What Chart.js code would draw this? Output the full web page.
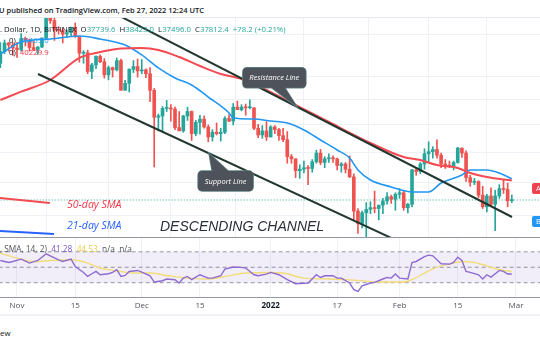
<!DOCTYPE html>
<html>
<head>
<meta charset="utf-8">
<script src="https://cdn.jsdelivr.net/npm/chart.js@4.4.1/dist/chart.umd.min.js"></script>
<style>
  body { margin: 0; width: 540px; height: 340px; overflow: hidden; background: #fff; position: relative;
         font-family: "Open Sans", Arial, sans-serif; color: #131722; }
  canvas { position: absolute; left: 0; }
  #main { top: 18px; }
  #rsi { top: 238px; }
  .t { position: absolute; white-space: nowrap; line-height: 10px; font-size: 7.8px; }
  .hl { position: absolute; left: 0; width: 540px; }
  .up { color: #26a69a; }
  .box { position: absolute; left: 532px; width: 20px; color: #fff; font-size: 7.5px; line-height: 11px;
         padding-left: 4px; border-radius: 2px; }
</style>
</head>
<body>
<div class="hl" style="top:17px;height:1px;background:#e6e9f0"></div>
<canvas id="main" width="540" height="220"></canvas>
<canvas id="rsi" width="540" height="77"></canvas>
<div class="hl" style="top:237px;height:1px;background:#9598a1"></div>
<div class="hl" style="top:314px;height:2px;background:#f0f2f6"></div>

<div class="t" style="top:5px;left:-1px;font-size:7.5px;font-weight:600">U published on TradingView.com, Feb 27, 2022 12:24 UTC</div>
<div class="t" style="top:24px;left:0">. Dollar, 1D, BITFINEX&nbsp;&nbsp;O<span class="up">37739.6</span>&nbsp;&nbsp;H<span class="up">38423.0</span>&nbsp;&nbsp;L<span class="up">37496.0</span>&nbsp;&nbsp;C<span class="up">37812.4</span>&nbsp;&nbsp;<span class="up">+78.2 (+0.21%)</span></div>
<div class="t" style="top:35px;left:9px">0)&nbsp;&nbsp;<span style="color:#2196f3">40465.0</span></div>
<div class="t" style="top:47px;left:9px">0)&nbsp;&nbsp;<span style="color:#f23645">40229.9</span></div>
<div class="t" style="top:198px;left:67px;font-size:10.5px;line-height:12px;font-style:italic;color:#f23645">50-day SMA</div>
<div class="t" style="top:219px;left:67px;font-size:10.5px;line-height:12px;font-style:italic;color:#2962ff">21-day SMA</div>
<div class="t" style="top:217px;left:160px;font-size:14px;line-height:18px;font-style:italic;color:#2a2e39;font-family:'Liberation Sans',Arial,sans-serif">DESCENDING CHANNEL</div>
<div class="t" style="top:244px;left:0;font-size:8.3px;color:#50535e">, SMA, 14, 2)&nbsp;&nbsp;<span style="color:#7e57c2">41.28</span>&nbsp;&nbsp;<span style="color:#e8cf4c">44.53</span>&nbsp;&nbsp;n/a&nbsp;&nbsp;n/a</div>
<div class="box" style="top:183px;background:#f0434f">A</div>
<div class="box" style="top:216px;background:#2196f3">B</div>
<div class="t" style="top:328px;left:0">ew</div>

<script>
// day 0 = Nov 1 2021; first candle is Oct 28 2021
const firstDay = -4;
const opens = [58400,60600,62300,61900, 61300,61000,63200,62900,61400,61000,61500,63300,67500,66900,64900,64800,64100,64400,65500,63600,60300,60400,56900,58100,59700,58700,56300,57600,57200,58900,53600,54800,57300,57800,
  57000,57200,56500,53600,49200,49400,50600,50600,50500,47600,47100,49400,50100,46700,48400,48900,47700,46200,46900,46700,46900,49000,48600,50800,50400,50800,50700,50700,47500,46500,47100,
  46200,47700,47300,46400,45800,43400,43100,41500,41700,41900,41800,42700,43900,42600,43100,43200,43100,42200,42400,41700,40700,36500,35100,36300,36700,36900,36800,37200,37700,38200,37900,
  38500,38700,36900,37300,41600,41400,42400,43800,44100,44400,43600,42400,42200,42100,42600,44600,43900,40600,40000,40100,38400,37000,38300,37300,38300,39200,39100,37739.6];
const highs = [62400,62900,62400,62400, 62400,64200,63500,63100,62600,61600,63300,67800,68500,69000,65600,65400,64900,65500,66400,63600,60800,60900,58400,59800,60000,59300,57900,57700,59400,59200,55300,57400,58900,59200,
  59100,57400,57600,53900,49700,50900,51900,51200,50800,50100,49500,50800,50200,48700,49500,49400,48000,47300,48300,47500,49300,49600,51400,51800,51200,51300,52000,50700,48100,47900,48500,
  47900,47900,47500,47500,47000,43700,43100,42300,42800,42200,43000,44300,44400,43400,43800,43500,43200,42600,42600,43500,41100,36800,36500,37500,37600,38900,37200,38000,38700,38400,38700,
  39200,38900,37400,41700,41900,42600,44500,45500,44800,45800,43900,43000,42800,42800,44700,44600,44200,40900,40500,40200,39500,38500,39300,39000,39700,40300,39900,38423];
const lows = [57600,60200,60700,59900, 59500,60700,61700,60700,60800,60100,61400,63100,66300,62800,64100,62300,63400,63600,63400,58600,58400,56500,55600,57400,58500,55700,55400,55900,57000,53600,53600,53300,56700,55900,
  56500,55800,51700,42000,47100,47000,50100,48600,47300,47300,46900,48700,45700,46400,46600,47500,45500,45600,46500,45600,46700,48500,48000,50400,50200,49500,50500,47300,46100,46000,45700,
  46200,46700,45700,45500,42500,42500,40600,40500,41200,39700,41300,42500,42300,41900,42600,42600,41600,41300,41200,40600,35500,34000,34600,32950,36200,36300,35500,36200,37300,37400,36600,
  38000,36600,36300,37000,40900,41100,41700,42700,43200,43200,41900,41800,41900,41600,42500,43300,40100,39500,39700,38100,36800,36400,37100,34300,38000,38600,37000,37496];
const closes = [60600,62300,61900,61300, 61000,63200,62900,61400,61000,61500,63300,67500,66900,64900,64800,64100,64400,65500,63600,60300,60400,56900,58100,59700,58700,56300,57600,57200,58900,53600,54800,57300,57800,57000,
  57200,56500,53600,49200,49400,50600,50600,50500,47600,47100,49400,50100,46700,48400,48900,47700,46200,46900,46700,46900,49000,48600,50800,50400,50800,50700,50700,47500,46500,47100,46200,
  47700,47300,46400,45800,43400,43100,41500,41700,41900,41800,42700,43900,42600,43100,43200,43100,42200,42400,41700,40700,36500,35100,36300,36700,36900,36800,37200,37700,38200,37900,38500,
  38700,36900,37300,41600,41400,42400,43800,44100,44400,43600,42400,42200,42100,42600,44600,43900,40600,40000,40100,38400,37000,38300,37300,38300,39200,39100,37700,37812.4];

const tickDays = [0, 14, 30, 44, 61, 77, 92, 106, 120];
const tickLabels = ["Nov", "15", "Dec", "15", "2022", "17", "Feb", "15", "Mar"];
const gridPrices = [36000, 40000, 44000, 48000, 52000, 56000, 64000];

const sma50Days = [-4, 1, 8, 15, 20, 25, 30, 34, 39, 44, 49, 54, 61, 68, 75, 85, 93, 97, 101, 106, 109, 113, 119];
const sma50 = [51970, 53360, 55380, 59400, 60540, 61220, 61320, 60930, 59580, 57900, 56450, 55560, 53300, 50820, 48460, 45330, 43350, 42940, 42260, 41860, 41200, 40680, 40229.9];
const sma21Days = [-4, 1, 8, 15, 20, 26, 30, 34, 38, 42, 46, 51, 52, 57, 61, 65, 69, 73, 77, 80, 82, 85, 90, 95, 99, 102, 107, 109, 113, 116, 119];
const sma21 = [60150, 62490, 63090, 63690, 63090, 61900, 59970, 57540, 55740, 54510, 52460, 49870, 49080, 48920, 48610, 48300, 47240, 45760, 44330, 43220, 41600, 40300, 39410, 38790, 38790, 39910, 40940, 41600, 41600, 41200, 40465];

const rsiDays = [-4,-2,-1,1,3,5,7,8,10,11,13,14,16,17,18,19,20,22,23,24,25,26,27,29,30,32,33,35,36,38,39,40,41,42,43,44,46,47,49,50,52,54,55,57,58,60,61,63,65,67,70,72,73,74,76,77,78,80,81,82,83,85,86,88,89,90,91,92,94,95,96,98,99,100,102,104,105,106,107,108,109,111,112,113,114,116,117,118,119];
const rsiVals = [58.8,56.2,57.5,60.5,55.4,58.8,67.4,64.8,59.7,57.5,60.5,51.0,43.3,38.1,41.6,44.6,40.3,41.6,43.3,46.8,38.1,39.4,44.6,45.9,43.8,39.0,30.9,32.6,34.8,33.9,29.6,36.0,38.1,33.9,37.3,40.3,36.0,36.0,39.0,47.7,50.3,49.8,49.0,40.3,39.0,41.2,43.3,40.3,33.9,28.7,29.6,40.3,36.8,39.0,39.0,36.0,36.0,29.6,21.0,18.8,26.1,29.6,30.4,34.8,36.8,36.0,41.2,36.0,34.8,56.2,57.5,63.9,65.7,64.8,54.5,54.1,56.2,63.1,58.8,44.6,43.3,40.3,34.8,40.3,37.3,45.9,44.6,41.2,41.28];
const rsiMaDays = [-4, 0, 4, 8, 13, 17, 20, 24, 28, 32, 36, 41, 46, 50, 55, 61, 64, 69, 75, 82, 87, 93, 95, 98, 101, 104, 107, 110, 113, 116, 119];
const rsiMaVals = [68.3, 61.9, 57.5, 58.8, 59.7, 55.4, 49.0, 45.5, 42.5, 42.5, 39.4, 36.0, 34.8, 38.1, 42.5, 43.3, 42.5, 36.0, 34.8, 33.0, 30.9, 30.9, 33.9, 42.5, 50.3, 54.1, 57.5, 56.2, 51.9, 46.8, 44.53];
const rsiLevels = [70, 50, 30];

// hand drawn lines, endpoints as [day, price]
const resistDays = [24.8, 119.05], resistPrices = [67836, 35822];
const supportDays = [5.05, 92.1], supportPrices = [56446, 33084];
const keyRedDays = [-4.1, 7.9], keyRedPrices = [38053, 37453];
const keyBlueDays = [-4.1, 8.9], keyBluePrices = [34262, 33937];
const lastPrice = 37812.4;

const UP = "#26a69a", DN = "#ef5350", GRID = "#eef1f6";
const X_MIN = -4.088, X_MAX = 125.78;

const pts = (xs, ys) => xs.map((x, i) => ({ x, y: ys[i] }));
const days = opens.map((_, i) => firstDay + i);
const candleColor = opens.map((o, i) => closes[i] >= o ? UP : DN);

function lineDs(data, color, width, extra) {
  return Object.assign({ type: "line", data, borderColor: color, borderWidth: width,
    pointRadius: 0, fill: false }, extra || {});
}

const callouts = [
  { text: "Resistance Line", day: 67.3, price: 50850, dx: -54, dy: -39, w: 63, h: 20, b0: -25, b1: -12 },
  { text: "Support Line", day: 46.2, price: 43838, dx: -11, dy: 17.5, w: 55, h: 20, b0: 3, b1: 19 },
];

const calloutPlugin = {
  id: "callouts",
  afterDatasetsDraw(chart) {
    const { ctx, scales: { x, y } } = chart;
    callouts.forEach(c => {
      const tx = x.getPixelForValue(c.day), ty = y.getPixelForValue(c.price);
      const bx = tx + c.dx, by = ty + c.dy;
      const edge = c.dy < 0 ? by + c.h : by;
      ctx.save();
      ctx.beginPath();
      ctx.roundRect(bx, by, c.w, c.h, 4);
      ctx.moveTo(tx + c.b0, edge);
      ctx.lineTo(tx, ty);
      ctx.lineTo(tx + c.b1, edge);
      ctx.closePath();
      ctx.strokeStyle = "#5f8683";
      ctx.lineWidth = 1.5;
      ctx.stroke();
      ctx.fillStyle = "#4e535b";
      ctx.fill();
      ctx.fillStyle = "#fff";
      ctx.font = "italic 7.5px 'Open Sans', Arial, sans-serif";
      ctx.textAlign = "center";
      ctx.textBaseline = "middle";
      ctx.fillText(c.text, bx + c.w / 2, by + c.h / 2 + 0.5);
      ctx.restore();
    });
  }
};

new Chart(document.getElementById("main"), {
  type: "bar",
  data: {
    datasets: [
      lineDs(pts(resistDays, resistPrices), "#22372f", 2, { order: 0 }),
      lineDs(pts(supportDays, supportPrices), "#22372f", 2, { order: 0 }),
      lineDs(pts(keyRedDays, keyRedPrices), "#f44a52", 2, { order: 0 }),
      lineDs(pts(keyBlueDays, keyBluePrices), "#2962ff", 2, { order: 0 }),
      lineDs(pts(sma50Days, sma50), "#f44a52", 2, { order: 1, cubicInterpolationMode: "monotone" }),
      lineDs(pts(sma21Days, sma21), "#2196f3", 1.6, { order: 1, cubicInterpolationMode: "monotone" }),
      {
        type: "bar", order: 2, grouped: false, barThickness: 3, minBarLength: 1,
        data: days.map((d, i) => ({ x: d, y: [opens[i], closes[i]] })),
        backgroundColor: candleColor, borderWidth: 0
      },
      {
        type: "bar", order: 3, grouped: false, barThickness: 1,
        data: days.map((d, i) => ({ x: d, y: [lows[i], highs[i]] })),
        backgroundColor: candleColor, borderWidth: 0
      },
      lineDs(pts([X_MIN - 2, X_MAX + 2], [lastPrice, lastPrice]), UP, 1, { order: 4, borderDash: [1, 2] }),
    ]
  },
  options: {
    responsive: false, animation: false,
    layout: { padding: 0 },
    plugins: { legend: { display: false }, tooltip: { enabled: false } },
    scales: {
      x: {
        type: "linear", min: X_MIN, max: X_MAX, offset: false,
        grid: { color: GRID, drawTicks: false }, border: { display: false },
        ticks: { display: false },
        afterBuildTicks: s => { s.ticks = tickDays.map(v => ({ value: v })); }
      },
      y: {
        type: "logarithmic", min: 33508, max: 67449,
        grid: { color: GRID, drawTicks: false }, border: { display: false },
        ticks: { display: false },
        afterBuildTicks: s => { s.ticks = gridPrices.map(v => ({ value: v })); }
      }
    }
  },
  plugins: [calloutPlugin]
});

const bandSets = rsiLevels.map((lv, i) => lineDs(pts([X_MIN - 2, X_MAX + 2], [lv, lv]), "#9598a1", 1, {
  order: 2, borderDash: [4, 3],
  fill: i === 0 ? { target: 2 } : false,
  backgroundColor: "rgba(126,87,194,0.10)"
}));

new Chart(document.getElementById("rsi"), {
  type: "line",
  data: {
    datasets: [
      ...bandSets,
      lineDs(pts(rsiMaDays, rsiMaVals), "#f2dc7a", 1.4, { order: 1, cubicInterpolationMode: "monotone" }),
      lineDs(pts(rsiDays, rsiVals), "#8e6bd0", 1.4, { order: 0 }),
    ]
  },
  options: {
    responsive: false, animation: false,
    layout: { padding: 0 },
    plugins: { legend: { display: false }, tooltip: { enabled: false } },
    scales: {
      x: {
        type: "linear", min: X_MIN, max: X_MAX, offset: false,
        grid: { color: GRID, drawTicks: false },
        border: { display: true, color: "#9598a1" },
        afterBuildTicks: s => { s.ticks = tickDays.map(v => ({ value: v })); },
        afterFit: s => { s.height = 18; },
        ticks: {
          padding: 4, maxRotation: 0, autoSkip: false,
          callback: v => tickLabels[tickDays.indexOf(v)],
          color: c => c.tick && c.tick.value === 61 ? "#131722" : "#50535e",
          font: c => ({ family: "'Open Sans', Arial, sans-serif", size: 8,
                        weight: c.tick && c.tick.value === 61 ? "bold" : "normal" })
        }
      },
      y: { display: false, min: 11.5, max: 87.9 }
    }
  }
});
</script>
</body>
</html>
